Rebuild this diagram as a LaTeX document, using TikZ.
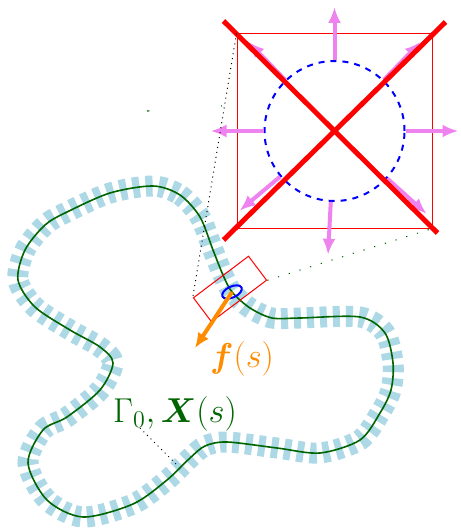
\documentclass[tikz,border=0pt]{standalone}
\usepackage{amsmath}
\usepackage{amssymb}
\usetikzlibrary{shapes.geometric, arrows.meta, positioning, calc}

\definecolor{bandblue}{RGB}{173,216,230}
\definecolor{curvegreen}{RGB}{0,100,0}
\definecolor{forceorange}{RGB}{255,140,0}
\definecolor{pushviolet}{RGB}{238,130,238}

\begin{document}
\begin{tikzpicture}[
        x=0.5pt, y=-0.5pt,
        curve/.style={draw=curvegreen, line width=0.8pt, preaction={draw=bandblue, line width=10.5pt, dash pattern=on 3.5pt off 3pt}},
        zoomframe/.style={rectangle, draw=red, line width=0.5pt, inner sep=0pt},
        cross/.style={draw=red, line width=2.5pt},
        push/.style={draw=pushviolet, line width=2pt, -{Latex[length=8pt, width=6.5pt]}},
        force/.style={draw=forceorange, line width=2pt, -{Latex[length=7.5pt, width=6.5pt]}},
        zoomline/.style={dotted, line width=0.5pt},
        label/.style={font=\LARGE, inner sep=1pt}
    ]
    \useasboundingbox (0,0) rectangle (460,529);

    % Interface
    \draw[curve] plot[smooth cycle] coordinates {
        (153,186) (180,195) (200,217) (213,250) (223,275) (232,292) (250,308)
        (272,318) (300,318) (360,317) (385,333) (393,363) (391,390) (380,413)
        (360,440) (320,453) (277,448) (227,442) (205,446) (190,458) (167,480)
        (133,504) (83,517) (47,500) (28,463) (43,430) (67,417) (100,390)
        (113,363) (100,347) (70,330) (35,307) (18,280) (25,250) (45,225)
        (67,212) (110,193)};

    % Nodes
    \node[zoomframe, minimum width=97.5pt, minimum height=97pt] (zoombox) at (334.5,131) {};
    \node[circle, draw=blue, dashed, line width=1pt, minimum size=70pt, inner sep=0pt] (cell) at (zoombox.center) {};
    \node[zoomframe, minimum width=34.5pt, minimum height=15pt, rotate=37] (zoomrect) at (230,289) {};
    \node[ellipse, draw=blue, line width=1pt, minimum width=10.5pt, minimum height=5.5pt, inner sep=0pt, rotate=25] (patch) at (232,292) {};
    \coordinate (ftip) at (195,348);
    \node[label, text=forceorange] (flabel) at (242,359) {$\boldsymbol{f}(s)$};
    \node[label, text=curvegreen] (gammalabel) at (175,414) {$\Gamma_0, \boldsymbol{X}(s)$};
    \coordinate (gammatail) at (140,428);
    \coordinate (gammapt) at (177,465);

    % Cell with its forces
    \begin{scope}[shift={(zoombox.center)}]
        \foreach \a in {0,-46,-90,-134,180,140,93,42}
            \draw[push] (\a:71) -- (\a:124);
        \draw[cross] (-111,-110) -- (103,102);
        \draw[cross] (-111,109) -- (111,-109);
    \end{scope}

    % Edges
    \draw[zoomline] (zoombox.north west) -- (zoomrect.north west);
    \draw[zoomline, draw=curvegreen, dash pattern=on 0.6pt off 5pt] (zoomrect.south east) -- (zoombox.south east);
    \draw[draw=curvegreen, line width=0.6pt, dash pattern=on 1.2pt off 36pt] (147,111) -- (222,106);
    \draw[force] (patch.center) -- (ftip);
    \draw[zoomline] (gammatail) -- (gammapt);

\end{tikzpicture}
\end{document}
